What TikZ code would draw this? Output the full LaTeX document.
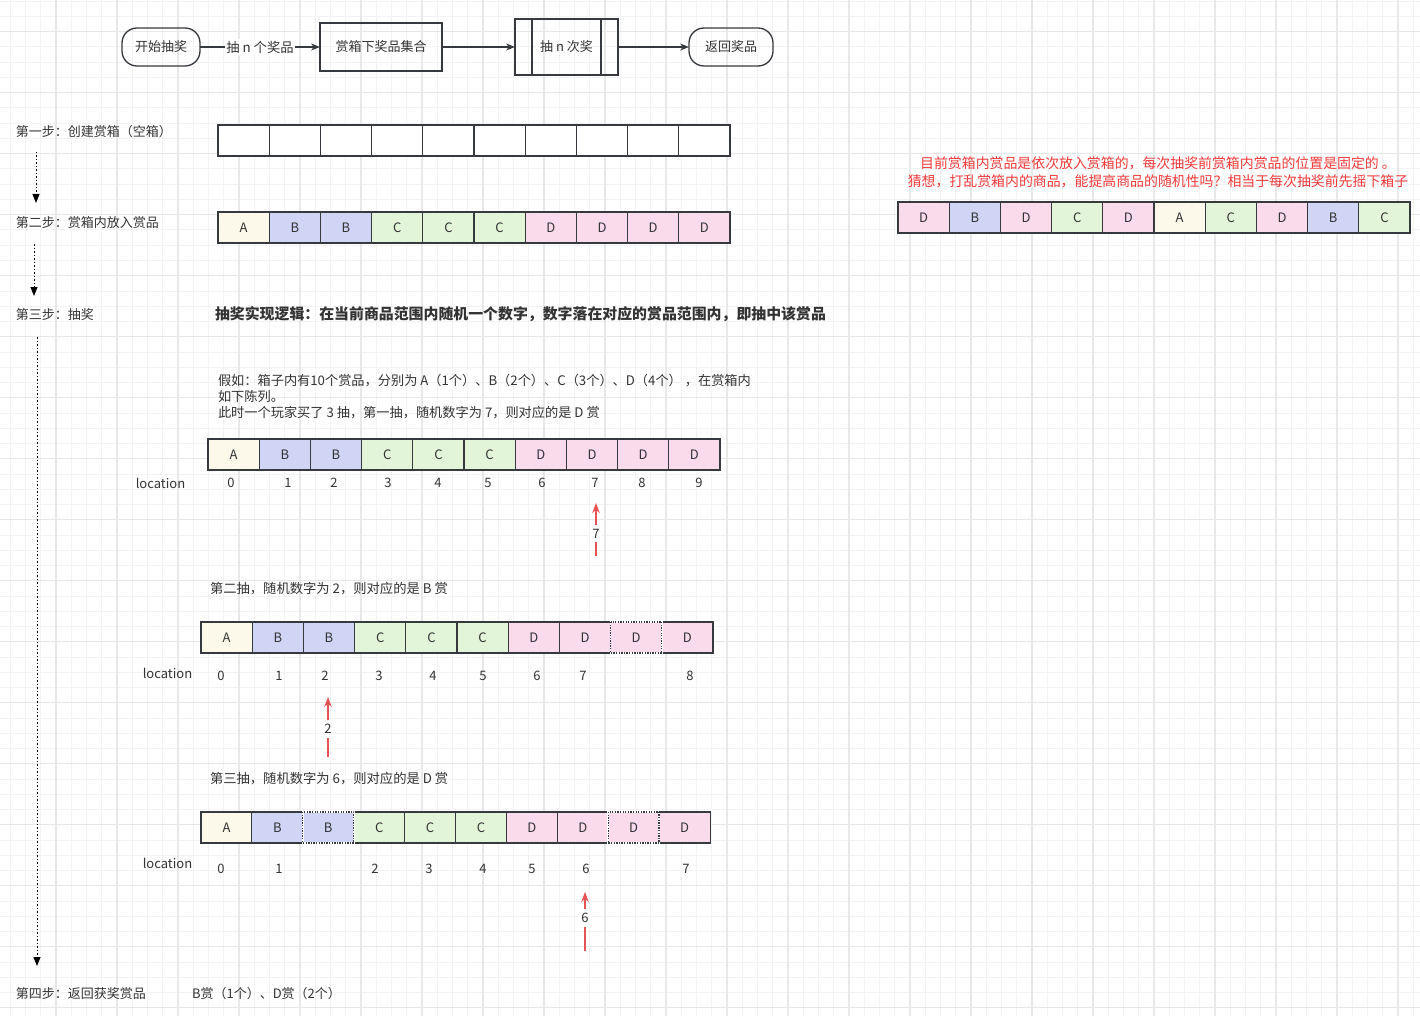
\documentclass[tikz,border=0pt]{standalone}
\usepackage{fontspec}
\newfontfamily\cjk{Noto Sans CJK SC}
\usetikzlibrary{arrows.meta}
\definecolor{colA}{HTML}{FCF9EA}
\definecolor{colB}{HTML}{D0D4F5}
\definecolor{colC}{HTML}{E3F5D9}
\definecolor{colD}{HTML}{F9DBEB}
\definecolor{edge}{HTML}{36393D}
\definecolor{gminor}{HTML}{F3F3F3}
\definecolor{gmajor}{HTML}{E8E8E8}
\definecolor{redc}{HTML}{E65353}
\definecolor{redtxt}{HTML}{F03A3A}
\definecolor{txt}{HTML}{333333}
\begin{document}
\begin{tikzpicture}[x=1pt,y=-1pt,
  every node/.style={font=\cjk\fontsize{13}{16}\selectfont, text=txt, inner sep=0pt, outer sep=0pt},
  cell/.style={draw=edge, line width=1.3pt, minimum width=51.2pt, minimum height=31pt, font=\cjk\fontsize{13}{15}\selectfont},
  cellnarrow/.style={cell, minimum width=50.9pt},
  nodraw/.style={draw=none},
  stadium/.style={draw=edge, line width=1.3pt, rounded corners=15pt, minimum height=38pt, font=\cjk\fontsize{13}{15}\selectfont},
  box/.style={draw=edge, line width=1.3pt, font=\cjk\fontsize{13}{15}\selectfont},
  flowarrow/.style={draw=edge, line width=1.3pt, -{Stealth[length=9pt,width=7pt]}},
  stepdots/.style={draw=black, line width=1pt, dash pattern=on 1.5pt off 2pt, -{Triangle[length=9pt,width=7pt]}},
  redarrow/.style={draw=redc, line width=1.2pt, -{Stealth[length=10pt,width=7.5pt]}},
  redlab/.style={fill=white, inner xsep=2pt, inner ysep=4pt, font=\cjk\fontsize{13}{15}\selectfont},
  steplabel/.style={anchor=west},
  numlabel/.style={font=\cjk\fontsize{13}{15}\selectfont},
  caption/.style={anchor=west, font=\cjk\fontsize{13.3}{16}\selectfont},
]
\useasboundingbox (0,0) rectangle (1420,1016);
\fill[white] (0,0) rectangle (1420,1016);
% grid
\foreach \i in {0,...,92} {\draw[gminor, line width=0.9pt] ({10.25+15.25*\i},0) -- ++(0,1016);}
\foreach \i in {0,...,66} {\draw[gminor, line width=0.9pt] (0,{1.2+15.25*\i}) -- ++(1420,0);}
\foreach \i in {0,...,22} {\draw[gmajor, line width=1.2pt] ({56+61*\i},0) -- ++(0,1016);}
\foreach \i in {0,...,16} {\draw[gmajor, line width=1.2pt] (0,{31.7+61*\i}) -- ++(1420,0);}

% top flow
\node[stadium, minimum width=78pt] (start) at (161,47) {开始抽奖};
\node[box, minimum width=122pt, minimum height=48pt] (set) at (381,47) {赏箱下奖品集合};
\node[box, minimum width=103pt, minimum height=56pt] (drawn) at (566.5,47) {抽 n 次奖};
\draw[edge, line width=1.3pt] ([xshift=17pt]drawn.north west) -- ([xshift=17pt]drawn.south west);
\draw[edge, line width=1.3pt] ([xshift=-17pt]drawn.north east) -- ([xshift=-17pt]drawn.south east);
\node[stadium, minimum width=84pt] (ret) at (731,47) {返回奖品};
\draw[flowarrow] (start) -- node[fill=white, inner sep=1.5pt, font=\cjk\fontsize{13.3}{15}\selectfont] (flabel) {抽 n 个奖品} (set);
\draw[flowarrow] (set) -- (drawn);
\draw[flowarrow] (drawn) -- (ret);

% step labels
\node[steplabel] (s1) at (16,132) {第一步：创建赏箱（空箱）};
\node[steplabel] (s2) at (16,223) {第二步：赏箱内放入赏品};
\node[steplabel] (s3) at (16,315) {第三步：抽奖};
\node[steplabel] (s4) at (16,994) {第四步：返回获奖赏品};
\coordinate (d1a) at (36,152); \coordinate (d1b) at (36,203);
\coordinate (d2a) at (34,244); \coordinate (d2b) at (34,296);
\coordinate (d3a) at (37,337); \coordinate (d3b) at (37,966);
\draw[stepdots] (d1a) -- (d1b);
\draw[stepdots] (d2a) -- (d2b);
\draw[stepdots] (d3a) -- (d3b);

% row 1 empty
\foreach \i in {0,...,9} {\node[cell, fill=white] (ra\i) at ({218+25.6+51.2*\i},140.5) {};}
% row 2
\foreach \L [count=\i from 0] in {A,B,B,C,C,C,D,D,D,D} {\node[cell, fill=col\L] (rb\i) at ({218+25.6+51.2*\i},227.5) {\L};}
% shuffled row
\foreach \L [count=\i from 0] in {D,B,D,C,D,A,C,D,B,C} {\node[cell, fill=col\L] (rs\i) at ({898+25.6+51.2*\i},217.5) {\L};}
\node[align=center, text=redtxt, font=\cjk\fontsize{13.9}{18}\selectfont] (note) at (1158,172) {目前赏箱内赏品是依次放入赏箱的，每次抽奖前赏箱内赏品的位置是固定的 。\\猜想，打乱赏箱内的商品，能提高商品的随机性吗？相当于每次抽奖前先摇下箱子};

% step 3
\node[anchor=west, font=\cjk\bfseries\fontsize{14.9}{18}\selectfont] (logic) at (215,314) {抽奖实现逻辑：在当前商品范围内随机一个数字，数字落在对应的赏品范围内，即抽中该赏品};
\node[anchor=north west, align=left, font=\cjk\fontsize{13.2}{16}\selectfont] (para) at (218,374) {假如：箱子内有10个赏品，分别为 A（1个）、B（2个）、C（3个）、D（4个） ，在赏箱内\\如下陈列。\\此时一个玩家买了 3 抽，第一抽，随机数字为 7，则对应的是 D 赏};

% row 3
\foreach \L [count=\i from 0] in {A,B,B,C,C,C,D,D,D,D} {\node[cell, fill=col\L] (rc\i) at ({208+25.6+51.2*\i},454.5) {\L};}
\node[numlabel] (loc3) at (160.5,483) {location};
\foreach \x/\t in {231/0,288/1,334/2,388/3,438/4,488/5,542/6,595/7,642/8,699/9} {\node[numlabel] (n3-\t) at (\x,483) {\t};}
\coordinate (p7s) at (596,556); \coordinate (p7e) at (596,503);
\draw[redarrow] (p7s) -- node[pos=0.42, redlab] (lab7) {7} (p7e);

% row 4
\node[caption] (cap2) at (210,589) {第二抽，随机数字为 2，则对应的是 B 赏};
\foreach \L/\s [count=\i from 0] in {A/cell,B/cell,B/cell,C/cell,C/cell,C/cell,D/cell,D/cell,D/nodraw,D/cell} {\node[cell, \s, fill=col\L] (rd\i) at ({201+25.6+51.2*\i},637.5) {\L};}
\foreach \n in {rd8} {
  \draw[white, line width=1.6pt] (\n.north west) rectangle (\n.south east);
  \draw[edge, line width=1.3pt, dash pattern=on 1.3pt off 1.3pt] (\n.north west) rectangle (\n.south east);}
\node[numlabel] (loc4) at (167.5,673) {location};
\foreach \x/\t in {221/0,279/1,325/2,379/3,433/4,483/5,537/6,583/7,690/8} {\node[numlabel] (n4-\t) at (\x,676) {\t};}
\coordinate (p2s) at (328,757); \coordinate (p2e) at (328,697);
\draw[redarrow] (p2s) -- node[pos=0.47, redlab] (lab2) {2} (p2e);

% row 5
\node[caption] (cap3) at (210,779) {第三抽，随机数字为 6，则对应的是 D 赏};
\foreach \L/\s [count=\i from 0] in {A/cell,B/cell,B/nodraw,C/cell,C/cell,C/cell,D/cell,D/cell,D/nodraw,D/cell} {\node[cellnarrow, \s, fill=col\L] (re\i) at ({201+25.45+50.9*\i},827.5) {\L};}
\foreach \n in {re2,re8} {
  \draw[white, line width=1.6pt] (\n.north west) rectangle (\n.south east);
  \draw[edge, line width=1.3pt, dash pattern=on 1.3pt off 1.3pt] (\n.north west) rectangle (\n.south east);}
\node[numlabel] (loc5) at (167.5,863) {location};
\foreach \x/\t in {221/0,279/1,375/2,429/3,483/4,532/5,586/6,686/7} {\node[numlabel] (n5-\t) at (\x,869) {\t};}
\coordinate (p6s) at (585,951); \coordinate (p6e) at (585,892);
\draw[redarrow] (p6s) -- node[pos=0.56, redlab] (lab6) {6} (p6e);

% step 4 result
\node[anchor=west] (result) at (192,994) {B赏（1个）、D赏（2个）};
\end{tikzpicture}
\end{document}
